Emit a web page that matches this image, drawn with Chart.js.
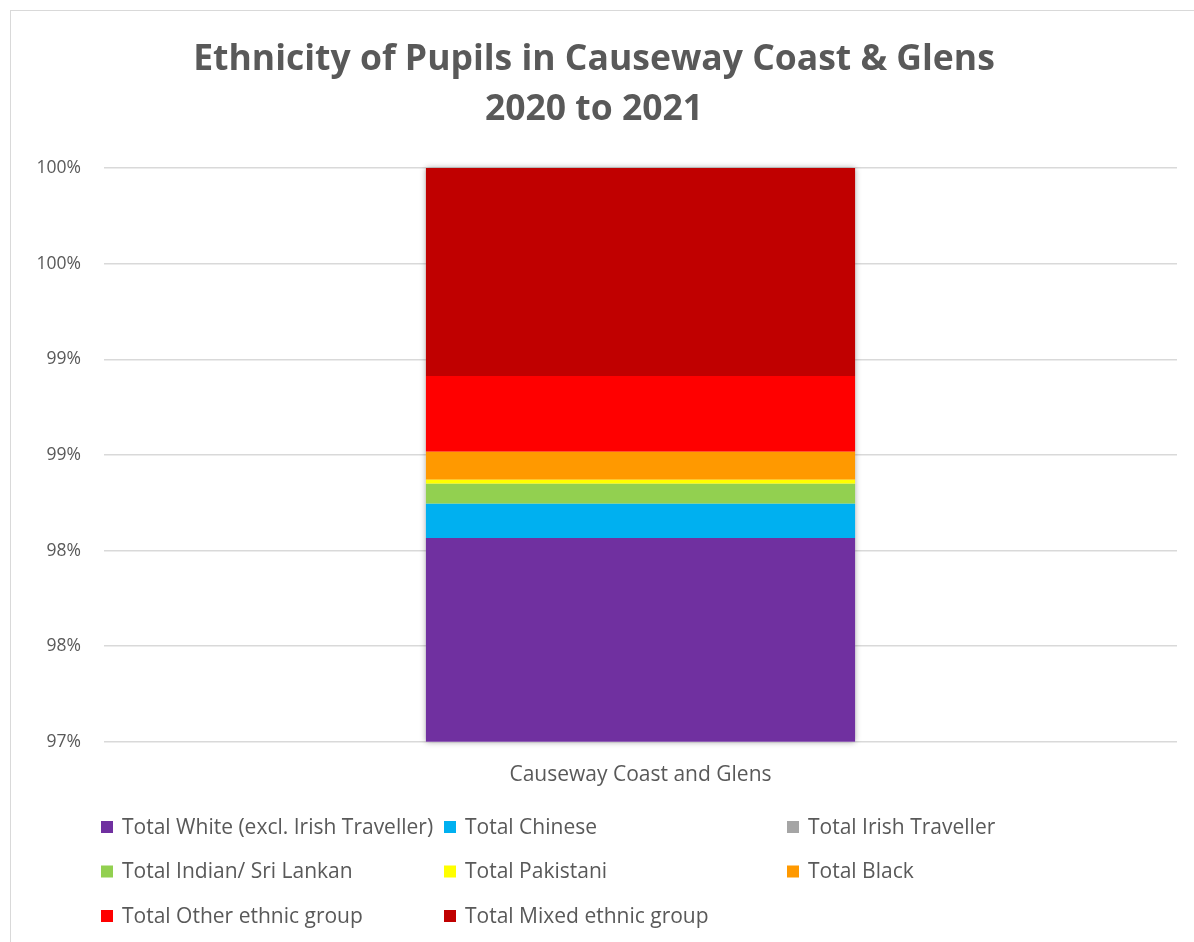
<!DOCTYPE html>
<html lang="en">
<head>
  <meta charset="UTF-8">
  <title>Ethnicity of Pupils in Causeway Coast &amp; Glens</title>
  <style>
    html, body { margin: 0; padding: 0; background: #fff; overflow: hidden; }
    .chart-box {
      position: absolute; left: 10px; top: 10px;
      width: 1196px; height: 940px;
      border: 1px solid #d9d9d9;
      box-sizing: border-box;
    }
  </style>
</head>
<body>
  <div class="chart-box">
    <canvas id="myChart"></canvas>
  </div>

<script src="https://cdn.jsdelivr.net/npm/chart.js"></script>
<script>
  // data (shares of pupils, 0-1)
  const categories = ['Causeway Coast and Glens'];
  const groupNames = [
    'Total White (excl. Irish Traveller)', 'Total Chinese', 'Total Irish Traveller',
    'Total Indian/ Sri Lankan', 'Total Pakistani', 'Total Black',
    'Total Other ethnic group', 'Total Mixed ethnic group'
  ];
  const groupShares = [0.98066, 0.00178, 0.0, 0.00105, 0.00021, 0.00146, 0.00397, 0.01087];
  const groupColours = ['#7030A0', '#00B0F0', '#A5A5A5', '#92D050', '#FFFF00', '#FF9900', '#FF0000', '#C00000'];
  const titleLines = ['Ethnicity of Pupils in Causeway Coast & Glens', '2020 to 2021'];

  const textGrey = '#595959';
  const fontName = '"Open Sans", Lato, sans-serif';

  // soft shadow behind the whole stacked bar (kept inside the plot area)
  const barShadow = {
    id: 'barShadow',
    beforeDatasetsDraw(chart) {
      const metas = chart.getSortedVisibleDatasetMetas();
      if (!metas.length) return;
      const first = metas[0].data[0];
      const last = metas[metas.length - 1].data[0];
      const area = chart.chartArea;
      const left = first.x - first.width / 2;
      const top = Math.max(last.y, area.top);
      const bottom = Math.min(first.base, area.bottom);
      const c = chart.ctx;
      c.save();
      c.shadowColor = 'rgba(0,0,0,0.35)';
      c.shadowBlur = 6;
      c.fillStyle = '#ffffff';
      c.fillRect(left, top, first.width, bottom - top);
      c.restore();
    }
  };

  // legend laid out as a 3-column grid like the original
  const gridLegend = {
    id: 'gridLegend',
    afterDraw(chart) {
      const c = chart.ctx;
      c.save();
      c.font = '21px ' + fontName;
      c.textBaseline = 'middle';
      chart.data.datasets.forEach((ds, i) => {
        const col = i % 3;
        const row = Math.floor(i / 3);
        const x = 90 + col * 343;
        const y = 816 + row * 44.5;
        c.fillStyle = ds.backgroundColor;
        c.fillRect(x, y - 6, 12, 12);
        c.fillStyle = textGrey;
        c.fillText(ds.label, x + 21, y + 1);
      });
      c.restore();
    }
  };

  const ctx = document.getElementById('myChart');
  const myChart = new Chart(ctx, {
    type: 'bar',
    data: {
      labels: categories,
      datasets: groupNames.map((name, i) => ({
        label: name,
        data: [groupShares[i]],
        backgroundColor: groupColours[i],
        borderWidth: 0,
        categoryPercentage: 1.0,
        barPercentage: 0.4
      }))
    },
    options: {
      responsive: true,
      maintainAspectRatio: false,
      animation: false,
      layout: {
        padding: { left: 0, right: 28, top: 0, bottom: 140 }
      },
      plugins: {
        legend: { display: false },
        tooltip: { enabled: false },
        title: {
          display: true,
          text: titleLines,
          color: textGrey,
          font: { family: fontName, size: 35.5, weight: 'bold', lineHeight: '50px' },
          padding: { top: 24, bottom: 33 }
        }
      },
      scales: {
        x: {
          stacked: true,
          grid: { display: false, drawTicks: false },
          border: { display: false },
          ticks: { color: textGrey, font: { family: fontName, size: 21 }, padding: 21 }
        },
        y: {
          stacked: true,
          min: 0.97,
          max: 1.0,
          afterFit: scale => { scale.width = 93; },
          grid: { color: '#d9d9d9', lineWidth: 1.5, drawTicks: false },
          border: { display: false },
          ticks: {
            stepSize: 0.005,
            color: textGrey,
            font: { family: fontName, size: 17.5 },
            padding: 23,
            callback: v => Math.round(Math.round(v * 1000) / 10) + '%'
          }
        }
      }
    },
    plugins: [barShadow, gridLegend]
  });
</script>
</body>
</html>
